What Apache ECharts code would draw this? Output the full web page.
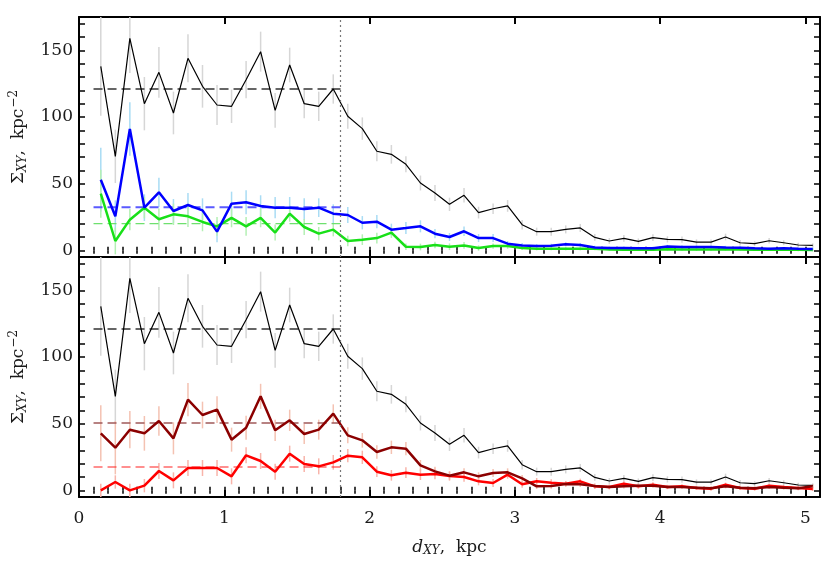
<!DOCTYPE html>
<html>
<head>
<meta charset="utf-8">
<script src="https://cdn.jsdelivr.net/npm/echarts@6/dist/echarts.min.js"></script>
<style>
  html, body { margin: 0; padding: 0; background: #fff; }
  #chart { width: 830px; height: 561px; }
</style>
</head>
<body>
<div id="chart"></div>
<script>
// distance bins, kpc
const dXY = [0.15, 0.25, 0.35, 0.45, 0.55, 0.65, 0.75, 0.85, 0.95, 1.05,
  1.15, 1.25, 1.35, 1.45, 1.55, 1.65, 1.75, 1.85, 1.95, 2.05,
  2.15, 2.25, 2.35, 2.45, 2.55, 2.65, 2.75, 2.85, 2.95, 3.05,
  3.15, 3.25, 3.35, 3.45, 3.55, 3.65, 3.75, 3.85, 3.95, 4.05,
  4.15, 4.25, 4.35, 4.45, 4.55, 4.65, 4.75, 4.85, 4.95, 5.05]

// surface density, all stars (black, both panels)
const sigmaAll = [138, 70.5, 159, 110, 133.5, 103, 144, 123, 109, 108,
  128, 149, 105, 139, 110, 108, 121, 100.5, 91.3, 74.3,
  72, 64.5, 50.5, 43, 34.5, 41.3, 28.3, 31.2, 33.3, 19.2,
  14, 14, 15.7, 16.8, 9.7, 7, 9, 6.7, 9.5, 8.2,
  8, 6.2, 6.2, 10, 5.7, 5, 7.2, 5.7, 4, 3.7]
const errAll = [37, 20, 26, 20, 19, 16, 18, 16, 15, 12.5,
  14, 15, 13, 13, 11, 11, 11, 9.4, 8.4, 7.5,
  7, 6, 5.6, 6, 5, 5.4, 4.4, 4, 4.4, 3.5,
  3, 3, 3, 3, 2.5, 2.2, 2.5, 2.2, 2.5, 2.3,
  2.3, 2, 2, 2.5, 2, 1.8, 2, 1.8, 1.6, 1.5]

// top panel: blue and green groups
const sigmaBlue = [53, 25.5, 91, 32, 43.5, 29.5, 34, 30, 14, 35,
  36, 33.3, 32, 32, 31, 32, 27.5, 26.5, 20.7, 21.5,
  15.5, 16.7, 18, 12.5, 10, 14.3, 9.2, 9.2, 5, 3.7,
  3.2, 3.5, 4.5, 4, 2.2, 1.7, 1.7, 1.5, 1.5, 2.8,
  2.5, 2.5, 2.5, 2.2, 2, 1.5, 1.2, 1.5, 1.2, 1]
const errBlue = [24, 12, 20, 10, 11, 9, 9, 9, 8, 9,
  9, 8, 8, 8, 8, 7, 7, 6, 5, 5,
  4.5, 4.5, 4.5, 3.5, 3, 3.5, 3, 3, 2, 1.8,
  1.5, 1.5, 1.5, 1.5, 1.3, 1.2, 1.2, 1.2, 1.2, 1.3,
  1.3, 1.3, 1.3, 1.2, 1.2, 1.1, 1, 1, 1, 1]
const sigmaGreen = [42.5, 7, 23, 32, 23.3, 27, 25.5, 21.3, 18, 24.3,
  18, 24.3, 13.3, 27.5, 17.5, 12.5, 15.5, 7, 8, 9.2,
  13.3, 2.7, 2.5, 4, 2.7, 3.7, 1.7, 3.2, 3.2, 1.7,
  1.2, 1.2, 1.2, 1.2, 1.2, 0.7, 0.5, 0.6, 0.5, 0.8,
  0.7, 0.6, 0.6, 0.8, 0.6, 0.5, 0.6, 0.5, 0.4, 0.2]
const errGreen = [18, 10, 8, 8, 8, 8, 8, 7, 7, 7,
  7, 7, 6, 6, 6, 5, 5, 4, 4, 4,
  4, 2.5, 2.5, 2.5, 2.5, 2.5, 2, 2, 2, 1.5,
  1.2, 1.2, 1.2, 1.2, 1.2, 1, 1, 1, 1, 1,
  1, 1, 1, 1, 1, 1, 1, 1, 1, 1]

// bottom panel: dark red and red groups
const sigmaDarkRed = [42.75, 32, 45.5, 42.75, 52, 39, 68, 56.5, 60.5, 38,
  47, 70.5, 45, 52.5, 42.25, 45.5, 57.5, 41.25, 37.5, 28.75,
  32.25, 31.25, 18.75, 14.25, 11, 13.5, 10.5, 13, 13.5, 9,
  3, 3.25, 4.75, 4.5, 3.25, 2.5, 3, 3.5, 3.5, 2.5,
  2.5, 2, 1.5, 3, 2, 1.5, 2.5, 2, 1.5, 3]
const errDarkRed = [21, 20, 14, 13, 11, 12, 12.5, 10, 10, 9,
  9, 9.4, 8, 8, 7.5, 7.5, 7, 6, 5.5, 5,
  5, 5, 4, 3.5, 3, 3, 3, 3, 3, 2.5,
  2, 2, 2, 2, 1.8, 1.6, 1.6, 1.6, 1.6, 1.5,
  1.5, 1.5, 1.5, 1.5, 1.5, 1.5, 1.5, 1.5, 1.5, 1.5]
const sigmaRed = [0, 6.25, 0, 3.5, 14.5, 7.5, 16.75, 16.75, 16.75, 10.5,
  26.25, 22, 14, 27.5, 19.75, 18, 21, 26, 24.75, 14,
  11.25, 13.25, 11.75, 12.25, 10.75, 10, 6.75, 5.5, 11.75, 4.5,
  6.75, 5.75, 5, 6.75, 3, 2.5, 5, 3, 4.25, 2.5,
  3, 1.75, 1.25, 4.25, 1.75, 1.25, 3.5, 2.5, 1.75, 1]
const errRed = [5, 5, 5, 5, 6, 6, 6, 6, 6, 6,
  6, 6, 6, 6, 6, 6, 5.5, 5, 5, 4,
  4, 4, 4, 4, 3.5, 3.5, 3, 3, 3, 2.5,
  2.5, 2.5, 2, 2, 2, 1.8, 1.8, 1.8, 1.8, 1.6,
  1.6, 1.5, 1.5, 1.5, 1.5, 1.5, 1.5, 1.5, 1.5, 1.5]

// mean levels inside d < 1.8 kpc (dashed lines)
const meanAll = 121
const meanBlue = 32.3
const meanGreen = 20
const meanDarkRed = 50.5
const meanRed = 17.5
const innerRange = [0.1, 1.8]
const boundary = 1.8

const xMajor = [0, 1, 2, 3, 4, 5]
const yLabels = [0, 50, 100, 150]
const yTicks = [0, 10, 20, 30, 40, 50, 60, 70, 80, 90, 100, 110, 120, 130, 140, 150, 160, 170]
const xMinor = Array.from({ length: 51 }, (_, i) => i / 10)

const FONT = 'DejaVu Serif'
const TXT = '#1a1a1a'
const frame = { show: true, onZero: false, lineStyle: { color: '#000', width: 2 } }

function xAxes(grid, pos, withLabels) {
  return [
    {
      gridIndex: grid, type: 'value', position: pos, min: 0, max: 5.1,
      axisLine: frame, splitLine: { show: false },
      axisTick: { inside: true, length: 7, customValues: xMajor, lineStyle: { color: '#000', width: 2 } },
      axisLabel: {
        show: withLabels, customValues: xMajor, margin: 13,
        fontFamily: FONT, fontSize: 17, color: TXT
      },
      name: withLabels ? '{i|d}{sub|XY}{n|,  kpc}' : '',
      nameLocation: 'middle', nameGap: 41,
      nameTextStyle: {
        rich: {
          i: { fontFamily: FONT, fontStyle: 'italic', fontSize: 17, color: TXT },
          sub: { fontFamily: FONT, fontStyle: 'italic', fontSize: 12, color: TXT, verticalAlign: 'bottom', padding: [7, 0, 0, 0] },
          n: { fontFamily: FONT, fontSize: 17, color: TXT }
        }
      }
    },
    {
      gridIndex: grid, type: 'value', position: pos, min: 0, max: 5.1,
      axisLine: { show: false }, splitLine: { show: false },
      axisTick: { inside: true, length: 3.5, customValues: xMinor, lineStyle: { color: '#000', width: 1.5 } },
      axisLabel: { show: false }
    }
  ]
}

function yAxes(grid) {
  return [
    {
      gridIndex: grid, type: 'value', position: 'left', min: -5, max: 175,
      axisLine: frame, splitLine: { show: false },
      axisTick: { inside: true, length: 6, customValues: yTicks, lineStyle: { color: '#000', width: 1.5 } },
      axisLabel: { customValues: yLabels, margin: 6, fontFamily: FONT, fontSize: 17, color: TXT },
      name: '{s|Σ}{sub|XY}{n|,  kpc}{sup|−2}',
      nameLocation: 'middle', nameRotate: 90, nameGap: 50,
      nameTextStyle: {
        rich: {
          s: { fontFamily: FONT, fontSize: 17, color: TXT },
          sub: { fontFamily: FONT, fontStyle: 'italic', fontSize: 12, color: TXT, verticalAlign: 'bottom', padding: [7, 0, 0, 0] },
          n: { fontFamily: FONT, fontSize: 17, color: TXT },
          sup: { fontFamily: FONT, fontSize: 12, color: TXT, verticalAlign: 'top', padding: [0, 0, 9, 1] }
        }
      }
    },
    {
      gridIndex: grid, type: 'value', position: 'right', min: -5, max: 175,
      axisLine: frame, splitLine: { show: false },
      axisTick: { inside: true, length: 6, customValues: yTicks, lineStyle: { color: '#000', width: 1.5 } },
      axisLabel: { show: false }
    }
  ]
}

function errorBars(xi, yi, vals, errs, color) {
  return {
    type: 'custom', xAxisIndex: xi, yAxisIndex: yi, silent: true, z: 1, clip: true,
    data: dXY.map((x, i) => [x, vals[i] - errs[i], vals[i] + errs[i]]),
    encode: { x: 0, y: [1, 2] },
    renderItem: (params, api) => {
      const lo = api.coord([api.value(0), api.value(1)])
      const hi = api.coord([api.value(0), api.value(2)])
      return {
        type: 'line',
        shape: { x1: lo[0], y1: lo[1], x2: hi[0], y2: hi[1] },
        style: { stroke: color, lineWidth: 1.5 }
      }
    }
  }
}

function profile(xi, yi, vals, color, width) {
  return {
    type: 'line', xAxisIndex: xi, yAxisIndex: yi, z: 3,
    data: dXY.map((x, i) => [x, vals[i]]),
    symbol: 'none', lineStyle: { color: color, width: width }
  }
}

function meanLine(xi, yi, level, color, width) {
  return {
    type: 'line', xAxisIndex: xi, yAxisIndex: yi, z: 2,
    data: [[innerRange[0], level], [innerRange[1], level]],
    symbol: 'none', lineStyle: { color: color, width: width, type: [9, 5] }
  }
}

function boundaryLine(xi, yi) {
  return {
    type: 'line', xAxisIndex: xi, yAxisIndex: yi, data: [],
    markLine: {
      silent: true, symbol: 'none', label: { show: false },
      lineStyle: { color: '#777', width: 1.2, type: [2, 3] },
      data: [{ xAxis: boundary }]
    }
  }
}

const option = {
  animation: false,
  backgroundColor: '#fff',
  grid: [
    { left: 79, right: 10, top: 17, height: 240 },
    { left: 79, right: 10, top: 257, height: 240 }
  ],
  xAxis: [
    ...xAxes(0, 'bottom', false), ...xAxes(0, 'top', false),
    ...xAxes(1, 'bottom', true), ...xAxes(1, 'top', false)
  ],
  yAxis: [...yAxes(0), ...yAxes(1)],
  series: [
    // top panel
    errorBars(0, 0, sigmaAll, errAll, '#d6d6d6'),
    errorBars(0, 0, sigmaBlue, errBlue, '#a9dcf4'),
    errorBars(0, 0, sigmaGreen, errGreen, '#b4f0b4'),
    meanLine(0, 0, meanAll, '#666', 2),
    meanLine(0, 0, meanBlue, '#5a5aff', 1.8),
    meanLine(0, 0, meanGreen, '#6ee06e', 1.3),
    profile(0, 0, sigmaAll, '#000', 1.2),
    profile(0, 0, sigmaGreen, '#18e018', 2.5),
    profile(0, 0, sigmaBlue, '#0000ff', 2.5),
    boundaryLine(0, 0),
    // bottom panel
    errorBars(4, 2, sigmaAll, errAll, '#d6d6d6'),
    errorBars(4, 2, sigmaDarkRed, errDarkRed, '#f4c2b2'),
    errorBars(4, 2, sigmaRed, errRed, '#f8b4aa'),
    meanLine(4, 2, meanAll, '#333', 1.3),
    meanLine(4, 2, meanDarkRed, '#a05a5a', 1.5),
    meanLine(4, 2, meanRed, '#ff2020', 1.2),
    profile(4, 2, sigmaAll, '#000', 1.2),
    profile(4, 2, sigmaRed, '#ff0000', 2.5),
    profile(4, 2, sigmaDarkRed, '#8b0000', 2.5),
    boundaryLine(4, 2)
  ]
}

const myChart = echarts.init(document.getElementById('chart'))
myChart.setOption(option)
</script>
</body>
</html>
